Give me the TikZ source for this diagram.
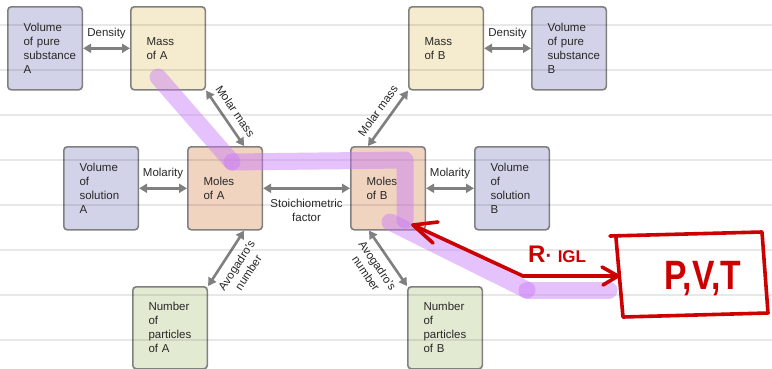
\documentclass[tikz,border=0pt]{standalone}
\usepackage{fontspec}
\setmainfont{Liberation Sans}
\usetikzlibrary{arrows.meta,calc}
\definecolor{boxline}{RGB}{128,128,128}
\definecolor{arrowgray}{RGB}{128,128,128}
\definecolor{lav}{RGB}{210,210,232}
\definecolor{sand}{RGB}{245,235,206}
\definecolor{peach}{RGB}{240,212,192}
\definecolor{sage}{RGB}{226,234,210}
\definecolor{hilite}{RGB}{200,120,250}
\definecolor{ink}{RGB}{204,0,0}
\definecolor{txt}{RGB}{40,40,40}
\begin{document}
\begin{tikzpicture}[x=1pt,y=-1pt,
  box/.style={draw=boxline, line width=1.6pt, rounded corners=3.5pt,
    minimum width=74.5pt, minimum height=83pt, text width=43pt, align=left,
    inner xsep=0pt, inner ysep=0pt, anchor=north west, text=txt,
    font=\fontsize{11.5}{14}\selectfont},
  biarrow/.style={draw=arrowgray, line width=2.6pt,
    {Triangle[length=8pt,width=9pt]}-{Triangle[length=8pt,width=9pt]}},
  lab/.style={font=\fontsize{11.5}{14}\selectfont, text=txt, inner sep=1pt, align=center},
  hl/.style={draw=hilite, draw opacity=0.45, line width=17pt, line cap=round, line join=round},
  inkline/.style={draw=ink, line width=3.6pt, line cap=round, line join=round},
  ruled/.style={draw=black, draw opacity=0.09, line width=1.5pt}
]
\useasboundingbox (0,0) rectangle (772,368);
\fill[white] (0,0) rectangle (772,368);

% boxes
\node[box, fill=lav]   (volA) at (7,6)   {Volume\\of pure\\substance\\A};
\node[box, fill=sand]  (massA) at (130,6) {Mass\\of A};
\node[box, fill=sand]  (massB) at (408,6) {Mass\\of B};
\node[box, fill=lav]   (volB) at (531,6) {Volume\\of pure\\substance\\B};
\node[box, fill=lav]   (solA) at (63,146) {Volume\\of\\solution\\A};
\node[box, fill=peach] (molA) at (187,146) {Moles\\of A};
\node[box, fill=peach] (molB) at (350,146) {Moles\\of B};
\node[box, fill=lav]   (solB) at (474,146) {Volume\\of\\solution\\B};
\node[box, fill=sage, minimum height=82pt] (numA) at (132,286) {Number\\of\\particles\\of A};
\node[box, fill=sage, minimum height=82pt] (numB) at (407,286) {Number\\of\\particles\\of B};

% connectors
\draw[biarrow] (volA.east) -- node[lab, above=7pt] {Density} (massA.west);
\draw[biarrow] (massB.east) -- node[lab, above=7pt] {Density} (volB.west);
\draw[biarrow] (solA.east) -- node[lab, above=7pt] {Molarity} (molA.west);
\draw[biarrow] (molB.east) -- node[lab, above=7pt] {Molarity} (solB.west);
\draw[biarrow] (molA.east) -- node[lab, below=9pt] {Stoichiometric\\factor} (molB.west);
\draw[biarrow] (massA.south east) -- node[lab, sloped, above=6pt] {Molar mass} ([xshift=-19pt]molA.north east);
\draw[biarrow] ([xshift=18pt]molB.north west) -- node[lab, sloped, above=6pt] {Molar mass} (massB.south west);
\draw[biarrow] (numA.north east) -- node[lab, sloped, below=6pt] {Avogadro’s\\number} ([xshift=-19pt]molA.south east);
\draw[biarrow] ([xshift=19pt]molB.south west) -- node[lab, sloped, below=6pt] {Avogadro’s\\number} (numB.north west);

% ruled notebook lines
\foreach \yy in {25,70,115,160,205,250,295,340}
  \draw[ruled] (0,\yy) -- (772,\yy);

% highlighter
\draw[hl] (158,77) -- (232,162);
\draw[hl] (232,162) -- (405,160) -- (405,220);
\draw[hl] (390,222) -- (527,290);
\draw[hl] (527,290) -- (609,290);

% red ink annotation
\coordinate (vtx) at (523,276);
\coordinate (tipL) at (413,225);
\coordinate (tipR) at (618,276);
\draw[inkline] (vtx) -- (tipL);
\draw[inkline] (438,222) -- (tipL) -- (433,243);
\draw[inkline] (vtx) -- (tipR);
\draw[inkline] (602,267) -- (tipR) -- (603,285);
\draw[inkline] (610,236) -- (762,232) -- (768,313) -- (623,317) -- (616,238);
\node[text=ink, font=\bfseries\fontsize{41}{41}\selectfont, inner sep=0pt, anchor=base] (pvt) at (703,289) {\scalebox{0.82}[1]{P,V,T}};
\node[text=ink, inner sep=0pt, anchor=base west] (rigl) at (528,262) {\bfseries\fontsize{24}{24}\selectfont R\fontsize{20}{20}\selectfont·\ \fontsize{17}{17}\selectfont IGL};
\end{tikzpicture}
\end{document}
